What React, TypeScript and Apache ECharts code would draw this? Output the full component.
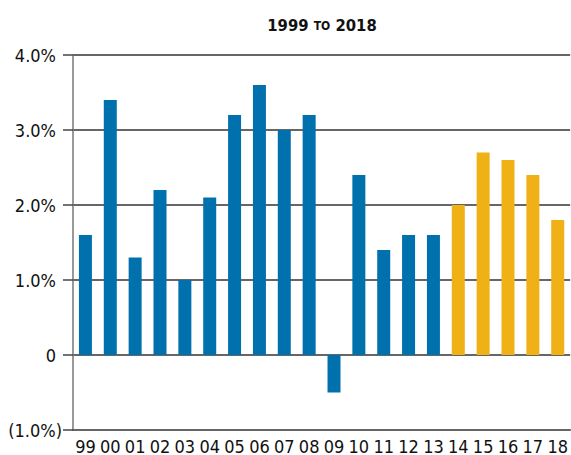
import React, { useEffect, useRef } from "react";
import * as echarts from "echarts";

const categories = ["99","00","01","02","03","04","05","06","07","08","09","10","11","12","13","14","15","16","17","18"];
const values = [1.6,3.4,1.3,2.2,1.0,2.1,3.2,3.6,3.0,3.2,-0.5,2.4,1.4,1.6,1.6,2.0,2.7,2.6,2.4,1.8];
const highlighted = ["14","15","16","17","18"];
const BLUE = "#0071ad";
const GOLD = "#efb116";
const FONT = "'Liberation Sans Narrow', 'DejaVu Sans Condensed', 'Roboto', sans-serif";

export default function App() {
  const ref = useRef<HTMLDivElement>(null);
  useEffect(() => {
    const chart = echarts.init(ref.current!, null, { renderer: "svg" });
    chart.setOption({
      animation: false,
      title: {
        text: "1999 {s|TO} 2018",
        left: 317,
        textAlign: "center",
        top: 12,
        textStyle: {
          fontFamily: FONT,
          fontWeight: "bold",
          fontSize: 16.5,
          color: "#111",
          rich: { s: { fontFamily: FONT, fontWeight: "bold", fontSize: 12, color: "#111" } },
        },
      },
      grid: { left: 73, top: 55, width: 498, height: 375 },
      xAxis: {
        type: "category",
        data: categories,
        axisLine: { onZero: false, lineStyle: { color: "#666", width: 2 } },
        axisTick: { show: false },
        axisLabel: { fontFamily: FONT, fontSize: 18, color: "#111", margin: 7, interval: 0 },
      },
      yAxis: {
        type: "value",
        min: -1,
        max: 4,
        interval: 1,
        axisLine: { show: true, lineStyle: { color: "#777", width: 1.5 } },
        axisTick: { show: true, length: 10, lineStyle: { color: "#444", width: 1.5 } },
        splitLine: { show: true, lineStyle: { color: "#333", width: 1.5 } },
        axisLabel: {
          fontFamily: FONT,
          fontSize: 18,
          color: "#111",
          margin: 11,
          formatter: (v: number) =>
            v === 0
              ? "{p|0}"
              : v < 0
              ? `(${Math.abs(v).toFixed(1)}%)`
              : `{p|${v.toFixed(1)}%}`,
          rich: {
            p: { fontFamily: FONT, fontSize: 18, color: "#111", padding: [0, 6, 0, 0] },
          },
        },
      },
      series: [
        {
          type: "bar",
          barWidth: 13,
          data: values.map((v, i) => ({
            value: v,
            itemStyle: { color: highlighted.includes(categories[i]) ? GOLD : BLUE },
          })),
        },
      ],
    });
    return () => chart.dispose();
  }, []);
  return <div ref={ref} style={{ width: 571, height: 455, position: "absolute", left: 0, top: 0 }} />;
}
